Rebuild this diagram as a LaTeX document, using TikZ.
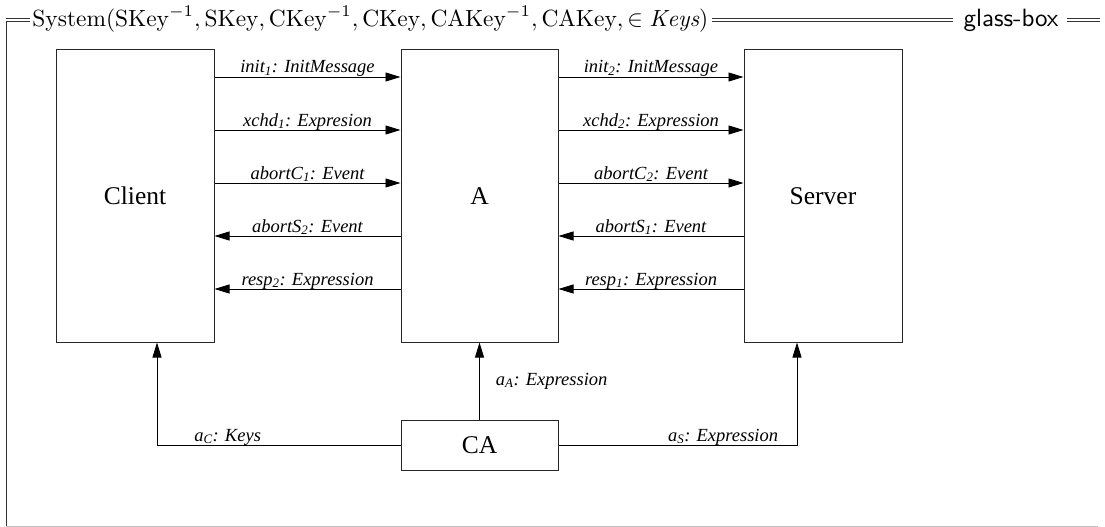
\documentclass[tikz,border=0pt]{standalone}
\usepackage{fontspec}
\newfontfamily\tms{Liberation Serif}
\usetikzlibrary{arrows.meta,calc}
\tikzset{
  box/.style={draw=black!85, line width=1pt, fill=white, inner sep=0pt,
    font=\tms\fontsize{25.5}{30}\selectfont},
  msg/.style={draw=black, line width=0.9pt, -{Triangle[length=15pt,width=9pt]}},
  lblfont/.style={font=\tms\itshape\fontsize{18.5}{21}\selectfont},
  lbl/.style={lblfont, anchor=base, yshift=4pt, inner sep=0pt},
  rule/.style={draw=black!80, line width=0.8pt},
}
\begin{document}
\begin{tikzpicture}[x=1pt,y=-1pt]
\useasboundingbox (0,0) rectangle (1105,527);
% frame
\node[anchor=base west, inner sep=0pt, scale=2.34] (title) at (32,27)
  {$\mathrm{System}(\mathrm{SKey}^{-1}, \mathrm{SKey}, \mathrm{CKey}^{-1}, \mathrm{CKey}, \mathrm{CAKey}^{-1}, \mathrm{CAKey}, \in \mathit{Keys})$};
\node[anchor=base, inner sep=0pt, scale=2.5, font=\sffamily] (gb) at (1011,27) {glass-box};
\draw[rule] (6,18.5) -- (30,18.5);
\draw[rule] (6,21.5) -- (30,21.5);
\draw[rule] ([xshift=3pt]title.east |- 0,18.5) -- ([xshift=-10pt]gb.west |- 0,18.5);
\draw[rule] ([xshift=3pt]title.east |- 0,21.5) -- ([xshift=-10pt]gb.west |- 0,21.5);
\draw[rule] ([xshift=8pt]gb.east |- 0,18.5) -- (1100,18.5);
\draw[rule] ([xshift=8pt]gb.east |- 0,21.5) -- (1100,21.5);
\draw[rule] (6,21.5) -- (6,526);
\draw[draw=black!25, line width=1pt] (6,526) -- (1098,526);
% boxes
\node[box, minimum width=158pt, minimum height=292pt] (client) at (135,196) {Client};
\node[box, minimum width=157pt, minimum height=292pt] (A) at (479.5,196) {A};
\node[box, minimum width=158pt, minimum height=292pt] (server) at (823,196) {Server};
\node[box, minimum width=157pt, minimum height=50pt] (CA) at (479.5,445) {CA};
% client <-> A
\draw[msg] (client.east |- 0,77) -- node[lbl]{init\textsubscript{1}: InitMessage} (A.west |- 0,77);
\draw[msg] (client.east |- 0,130) -- node[lbl]{xchd\textsubscript{1}: Expresion} (A.west |- 0,130);
\draw[msg] (client.east |- 0,183) -- node[lbl]{abortC\textsubscript{1}: Event} (A.west |- 0,183);
\draw[msg] (A.west |- 0,236) -- node[lbl]{abortS\textsubscript{2}: Event} (client.east |- 0,236);
\draw[msg] (A.west |- 0,289) -- node[lbl]{resp\textsubscript{2}: Expression} (client.east |- 0,289);
% A <-> server
\draw[msg] (A.east |- 0,77) -- node[lbl]{init\textsubscript{2}: InitMessage} (server.west |- 0,77);
\draw[msg] (A.east |- 0,130) -- node[lbl]{xchd\textsubscript{2}: Expression} (server.west |- 0,130);
\draw[msg] (A.east |- 0,183) -- node[lbl]{abortC\textsubscript{2}: Event} (server.west |- 0,183);
\draw[msg] (server.west |- 0,236) -- node[lbl]{abortS\textsubscript{1}: Event} (A.east |- 0,236);
\draw[msg] (server.west |- 0,289) -- node[lbl]{resp\textsubscript{1}: Expression} (A.east |- 0,289);
% CA connectors
\coordinate (cC) at (157,445);
\coordinate (cS) at (797,445);
\draw[msg] (CA.west) -- node[lbl, pos=0.71]{a\textsubscript{C}: Keys} (cC) -- (client.south -| cC);
\draw[msg] (CA.north) -- node[lblfont, anchor=west, xshift=16pt, inner sep=0pt]{a\textsubscript{A}: Expression} (A.south);
\draw[msg] (CA.east) -- node[lbl, pos=0.69]{a\textsubscript{S}: Expression} (cS) -- (server.south -| cS);
\end{tikzpicture}
\end{document}
